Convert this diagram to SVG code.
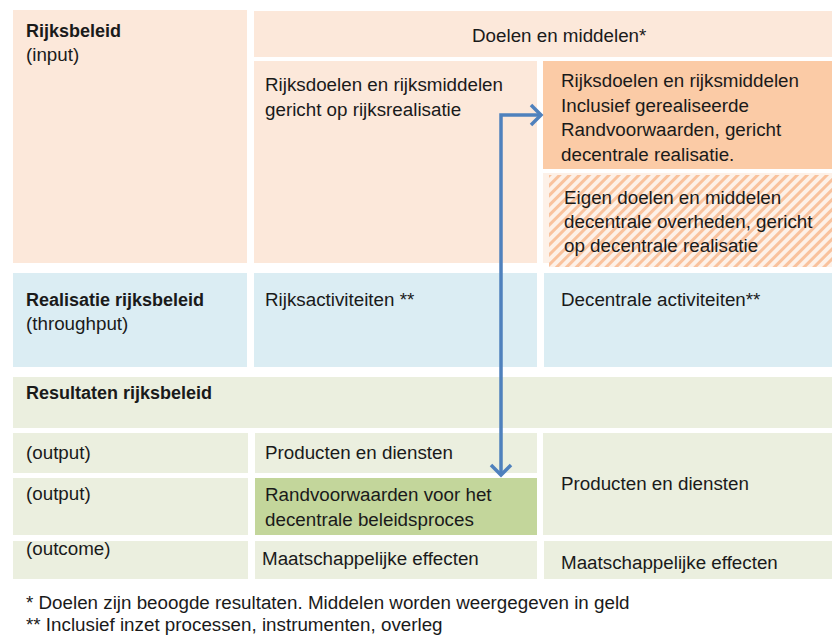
<svg xmlns="http://www.w3.org/2000/svg" width="832" height="637" viewBox="0 0 832 637">
<style>
text{font-family:"Liberation Sans",Arial,sans-serif;font-size:18.8px;fill:#1a1a1a}
.b{font-weight:bold;font-size:18px}
.peach{fill:#fce8da}
.orange{fill:#fbcba6}
.blue{fill:#dbedf3}
.lg{fill:#ebefdf}
.dg{fill:#c3d69b}
.conn{stroke:#4f81bd;stroke-width:3.5;fill:none;stroke-linejoin:miter}
</style>
<defs>
<pattern id="hatch" patternUnits="userSpaceOnUse" width="7" height="7" patternTransform="rotate(45)">
<rect width="7" height="7" fill="#fdf1e8"/>
<rect width="3" height="7" fill="#f9c29d"/>
</pattern>
</defs>
<rect width="832" height="637" fill="#ffffff"/>
<g id="rijksbeleid"><rect class="peach" x="13" y="10" width="234" height="253"/><text class="b" x="26" y="37">Rijksbeleid</text><text x="26" y="61">(input)</text></g>
<g id="doelen"><rect class="peach" x="254" y="11" width="578" height="46"/><text x="472" y="42">Doelen en middelen*</text></g>
<g id="rijksdoelen"><rect class="peach" x="254" y="61" width="283" height="202"/><text x="265" y="91">Rijksdoelen en rijksmiddelen</text><text x="265" y="116">gericht op rijksrealisatie</text></g>
<g id="rijksdoelen-decentraal"><rect class="orange" x="543" y="61" width="289" height="108"/><text x="561" y="87">Rijksdoelen en rijksmiddelen</text><text x="561" y="112">Inclusief gerealiseerde</text><text x="561" y="136">Randvoorwaarden, gericht</text><text x="561" y="161">decentrale realisatie.</text></g>
<g id="eigen-doelen"><rect x="543" y="173" width="289" height="90" fill="#fdf1e8"/><rect x="549" y="175" width="283" height="92" fill="url(#hatch)"/><text x="564" y="204">Eigen doelen en middelen</text><text x="564" y="228">decentrale overheden, gericht</text><text x="564" y="252">op decentrale realisatie</text></g>
<g id="realisatie"><rect class="blue" x="13" y="273" width="234" height="94"/><text class="b" x="26" y="306">Realisatie rijksbeleid</text><text x="26" y="330">(throughput)</text></g>
<g id="rijksactiviteiten"><rect class="blue" x="254" y="273" width="283" height="94"/><text x="265" y="306">Rijksactiviteiten **</text></g>
<g id="decentrale-activiteiten"><rect class="blue" x="544" y="273" width="288" height="94"/><text x="561" y="306">Decentrale activiteiten**</text></g>
<g id="resultaten"><rect class="lg" x="13" y="377" width="819" height="51"/><text class="b" x="26" y="399">Resultaten rijksbeleid</text></g>
<g id="output1"><rect class="lg" x="13" y="433" width="235" height="40"/><text x="26" y="459">(output)</text></g>
<g id="producten-rijk"><rect class="lg" x="255" y="433" width="282" height="40"/><text x="265" y="459">Producten en diensten</text></g>
<g id="output2"><rect class="lg" x="13" y="478" width="235" height="57"/><text x="26" y="500">(output)</text></g>
<g id="randvoorwaarden"><rect class="dg" x="255" y="478" width="282" height="57"/><text x="265" y="501">Randvoorwaarden voor het</text><text x="265" y="526">decentrale beleidsproces</text></g>
<g id="producten-decentraal"><rect class="lg" x="543" y="433" width="289" height="102"/><text x="561" y="490">Producten en diensten</text></g>
<g id="outcome"><rect class="lg" x="13" y="541" width="235" height="38"/><text x="26" y="555">(outcome)</text></g>
<g id="effecten-rijk"><rect class="lg" x="255" y="541" width="282" height="38"/><text x="262" y="565">Maatschappelijke effecten</text></g>
<g id="effecten-decentraal"><rect class="lg" x="544" y="541" width="288" height="38"/><text x="561" y="569">Maatschappelijke effecten</text></g>
<g id="footnotes"><text x="26" y="609">* Doelen zijn beoogde resultaten. Middelen worden weergegeven in geld</text><text x="26" y="631">** Inclusief inzet processen, instrumenten, overleg</text></g>
<g id="connectors">
<path class="conn" d="M501 475 V115 H541"/>
<path class="conn" d="M531 105 L541 115 L531 125"/>
<path class="conn" d="M491 465 L501 475 L511 465"/>
</g>
</svg>
